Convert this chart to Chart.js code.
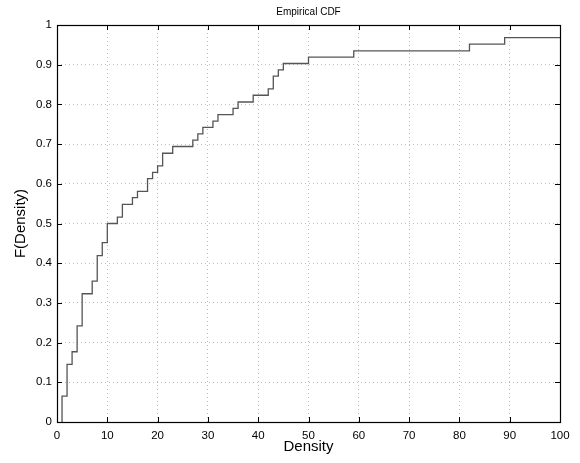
<!DOCTYPE html>
<html>
<head>
<meta charset="utf-8">
<script src="https://cdn.jsdelivr.net/npm/chart.js@4/dist/chart.umd.min.js"></script>
<style>
  html, body { margin: 0; padding: 0; background: #fff; }
  #wrap { width: 580px; height: 463px; }
</style>
</head>
<body>
<div id="wrap"><canvas id="cdfChart" width="580" height="463"></canvas></div>
<script>
// Empirical CDF step locations and heights
const densityX = [1, 2, 3, 4, 5, 7, 8, 9, 10, 12, 13, 15, 16, 18, 19, 20, 21, 23, 27, 28,
                  29, 31, 32, 35, 36, 39, 42, 43, 44, 45, 50, 59, 82, 89];
const cdfY = [0.065, 0.145, 0.177, 0.242, 0.323, 0.355, 0.419, 0.452, 0.5, 0.516,
              0.548, 0.565, 0.581, 0.613, 0.629, 0.645, 0.677, 0.694, 0.71, 0.726,
              0.742, 0.758, 0.774, 0.79, 0.806, 0.823, 0.839, 0.871, 0.887, 0.903,
              0.919, 0.935, 0.952, 0.968];
const xTicks = [0, 10, 20, 30, 40, 50, 60, 70, 80, 90, 100];
const yTicks = [0, 0.1, 0.2, 0.3, 0.4, 0.5, 0.6, 0.7, 0.8, 0.9, 1];
const xMax = 100;

const FONT = "'Liberation Sans', Arial, Helvetica, sans-serif";

// step points: start at zero, then each jump, then run to the right edge
const points = [{ x: densityX[0], y: 0 }];
densityX.forEach((x, i) => points.push({ x: x, y: cdfY[i] }));
points.push({ x: xMax, y: cdfY[cdfY.length - 1] });

// MATLAB-style box with inward ticks and centred title
const boxPlugin = {
    id: 'boxPlugin',
    afterDatasetsDraw(chart) {
        const ctx = chart.ctx;
        const a = chart.chartArea;
        const xs = chart.scales.x;
        const ys = chart.scales.y;
        const len = 5;
        ctx.save();
        ctx.strokeStyle = '#000';
        ctx.lineWidth = 1;
        ctx.beginPath();
        xTicks.forEach(v => {
            const px = Math.round(xs.getPixelForValue(v)) + 0.5;
            ctx.moveTo(px, a.bottom); ctx.lineTo(px, a.bottom - len);
            ctx.moveTo(px, a.top); ctx.lineTo(px, a.top + len);
        });
        yTicks.forEach(v => {
            const py = Math.round(ys.getPixelForValue(v)) + 0.5;
            ctx.moveTo(a.left, py); ctx.lineTo(a.left + len, py);
            ctx.moveTo(a.right, py); ctx.lineTo(a.right - len, py);
        });
        ctx.stroke();
        ctx.lineWidth = 1.2;
        ctx.strokeRect(Math.round(a.left) + 0.5, Math.round(a.top) + 0.5,
                       Math.round(a.right - a.left), Math.round(a.bottom - a.top));
        ctx.fillStyle = '#000';
        ctx.font = '10px ' + FONT;
        ctx.textAlign = 'center';
        ctx.textBaseline = 'middle';
        ctx.fillText('Empirical CDF', (a.left + a.right) / 2, 12);
        ctx.restore();
    }
};

new Chart(document.getElementById('cdfChart'), {
    type: 'line',
    data: {
        datasets: [{
            label: 'Empirical CDF',
            data: points,
            stepped: 'before',
            borderColor: '#555',
            borderWidth: 1.3,
            pointRadius: 0,
            fill: false
        }]
    },
    options: {
        responsive: false,
        animation: false,
        layout: { padding: { top: 25, right: 20, left: 0, bottom: 0 } },
        plugins: {
            legend: { display: false },
            tooltip: { enabled: false }
        },
        scales: {
            x: {
                type: 'linear',
                min: 0,
                max: xMax,
                afterBuildTicks: s => { s.ticks = xTicks.map(v => ({ value: v })); },
                afterFit: s => { s.height = 41; },
                grid: { color: '#bdbdbd', drawTicks: false, lineWidth: 1 },
                border: { display: false, dash: [1, 3] },
                ticks: { color: '#000', font: { family: FONT, size: 11.5 }, padding: 7, maxRotation: 0 },
                title: { display: true, text: 'Density', color: '#000', font: { family: FONT, size: 15 }, padding: { top: 0, bottom: 7 } }
            },
            y: {
                type: 'linear',
                min: 0,
                max: 1,
                afterBuildTicks: s => { s.ticks = yTicks.map(v => ({ value: v })); },
                afterFit: s => { s.width = 57; },
                grid: { color: '#bdbdbd', drawTicks: false, lineWidth: 1 },
                border: { display: false, dash: [1, 3] },
                ticks: {
                    color: '#000', font: { family: FONT, size: 11.5 }, padding: 5,
                    callback: v => String(+v.toFixed(1))
                },
                title: { display: true, text: 'F(Density)', color: '#000', font: { family: FONT, size: 15 }, padding: { top: 12, bottom: 0 } }
            }
        }
    },
    plugins: [boxPlugin]
});
</script>
</body>
</html>
